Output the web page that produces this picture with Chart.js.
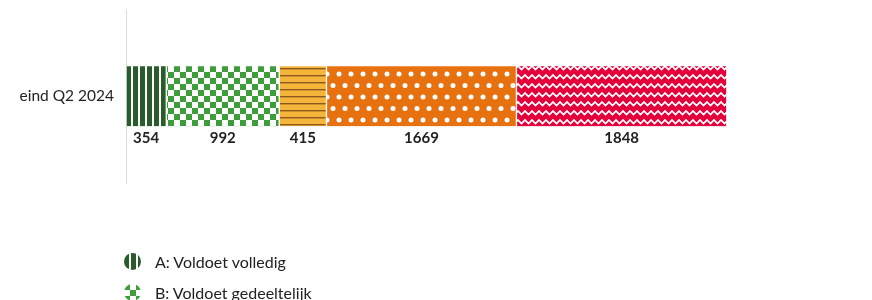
<!DOCTYPE html>
<html>
<head>
<meta charset="utf-8">
<script src="https://cdn.jsdelivr.net/npm/chart.js@4"></script>
<style>
  html, body { margin: 0; padding: 0; background: #fff; overflow: hidden; }
  body { width: 872px; height: 300px; font-family: Lato, "Noto Sans", sans-serif; color: #222; }
  #wrap { position: relative; width: 872px; height: 200px; }
  #legend { list-style: none; margin: 46px 0 0 0; padding: 0 0 0 124px; }
  #legend li { display: flex; align-items: center; height: 31px; font-size: 16px; color: #222; }
  #legend canvas { margin-right: 14px; }
</style>
</head>
<body>
<div id="wrap"><canvas id="chart"></canvas></div>
<ul id="legend"></ul>
<script>
const categories = ["eind Q2 2024"];
const seriesNames = [
  "A: Voldoet volledig",
  "B: Voldoet gedeeltelijk",
  "C: Voldoet grotendeels niet",
  "D: Voldoet niet",
  "E: Onbekend",
];
const seriesValues = [354, 992, 415, 1669, 1848];
const xMax = 6000;

// patterns drawn on small tiles
function makeTile(w, h, draw) {
  const c = document.createElement("canvas");
  c.width = w;
  c.height = h;
  draw(c.getContext("2d"), w, h);
  return c;
}

const tiles = [
  // A: dark green, white vertical stripes
  makeTile(7, 7, (g, w, h) => {
    g.fillStyle = "#2a5c2b";
    g.fillRect(0, 0, w, h);
    g.fillStyle = "#ffffff";
    g.fillRect(5, 0, 2, h);
  }),
  // B: green checkerboard
  makeTile(12, 12, (g, w, h) => {
    g.fillStyle = "#ffffff";
    g.fillRect(0, 0, w, h);
    g.fillStyle = "#3c9d3a";
    g.fillRect(0, 0, 6, 6);
    g.fillRect(6, 6, 6, 6);
  }),
  // C: yellow-orange with brown horizontal lines
  makeTile(7, 7, (g, w, h) => {
    g.fillStyle = "#f5b43a";
    g.fillRect(0, 0, w, h);
    g.fillStyle = "#8e5a1f";
    g.fillRect(0, 5, w, 1.4);
  }),
  // D: orange with staggered white dots
  makeTile(12, 23, (g, w, h) => {
    g.fillStyle = "#e8710f";
    g.fillRect(0, 0, w, h);
    g.fillStyle = "#ffffff";
    [[3, 5], [9, 16.5]].forEach(([x, y]) => {
      g.beginPath();
      g.arc(x, y, 2.5, 0, Math.PI * 2);
      g.fill();
    });
  }),
  // E: crimson with white zigzag
  makeTile(7, 9, (g, w, h) => {
    g.fillStyle = "#e4003b";
    g.fillRect(0, 0, w, h);
    g.strokeStyle = "#ffffff";
    g.lineWidth = 1.7;
    g.beginPath();
    g.moveTo(-3.5, 6.5);
    g.lineTo(0, 3);
    g.lineTo(3.5, 6.5);
    g.lineTo(7, 3);
    g.lineTo(10.5, 6.5);
    g.stroke();
  }),
];

const ctx = document.getElementById("chart").getContext("2d");
const patterns = tiles.map(t => ctx.createPattern(t, "repeat"));

const valueLabels = {
  id: "valueLabels",
  afterDatasetsDraw(chart) {
    const c = chart.ctx;
    c.save();
    c.font = "700 15px Lato, 'Noto Sans', sans-serif";
    c.fillStyle = "#222";
    c.textAlign = "center";
    c.textBaseline = "top";
    chart.data.datasets.forEach((ds, i) => {
      chart.getDatasetMeta(i).data.forEach((el, j) => {
        const x = (el.x + el.base) / 2;
        const y = el.y + el.height / 2 + 5;
        c.fillText(String(ds.data[j]), x, y);
      });
    });
    c.restore();
  },
};

new Chart(ctx, {
  type: "bar",
  data: {
    labels: categories,
    datasets: seriesNames.map((name, i) => ({
      label: name,
      data: [seriesValues[i]],
      backgroundColor: patterns[i],
      borderColor: "#ffffff",
      borderWidth: { left: 1, right: 1, top: 0, bottom: 0 },
      borderSkipped: false,
      barThickness: 60,
    })),
  },
  options: {
    indexAxis: "y",
    responsive: true,
    maintainAspectRatio: false,
    animation: false,
    layout: { padding: { top: 0, right: 63, bottom: 17, left: 0 } },
    plugins: {
      legend: { display: false },
      tooltip: { enabled: false },
    },
    scales: {
      x: {
        stacked: true,
        min: 0,
        max: xMax,
        display: false,
      },
      y: {
        stacked: true,
        afterFit(scale) {
          scale.width = 126;
        },
        grid: {
          display: true,
          drawOnChartArea: false,
          drawTicks: true,
          tickLength: 12,
          color: "transparent",
          tickColor: "transparent",
        },
        border: { display: true, color: "#dddddd", width: 1 },
        ticks: {
          padding: 0,
          color: "#222",
          font: { family: "Lato, 'Noto Sans', sans-serif", size: 15.5 },
        },
      },
    },
  },
  plugins: [valueLabels],
});

// legend with round pattern icons
const legend = document.getElementById("legend");
seriesNames.forEach((name, i) => {
  const li = document.createElement("li");
  const icon = document.createElement("canvas");
  icon.width = 17;
  icon.height = 17;
  const g = icon.getContext("2d");
  g.beginPath();
  g.arc(8.5, 8.5, 8.5, 0, Math.PI * 2);
  g.clip();
  g.fillStyle = g.createPattern(tiles[i], "repeat");
  g.fillRect(0, 0, 17, 17);
  li.appendChild(icon);
  li.appendChild(document.createTextNode(name));
  legend.appendChild(li);
});
</script>
</body>
</html>
